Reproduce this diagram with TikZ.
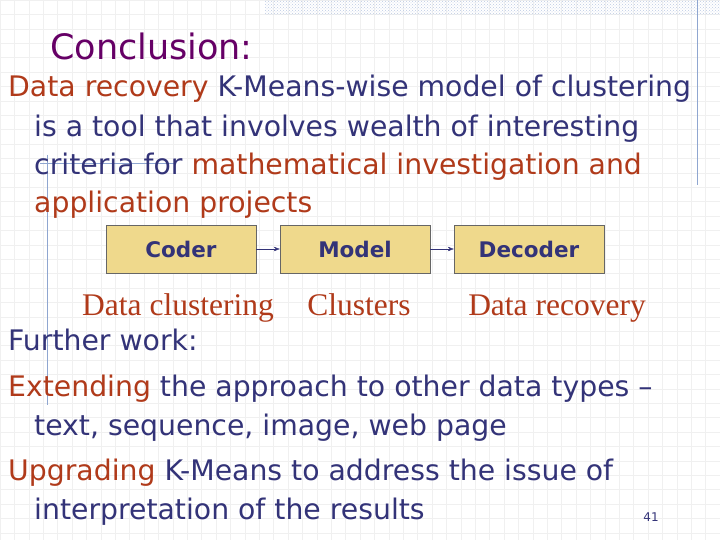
\documentclass[tikz,border=0pt]{standalone}
\usepackage{fontspec}
\setmainfont{DejaVu Sans}
\newfontfamily\serifx{Liberation Serif}
\usetikzlibrary{arrows.meta,patterns}
\definecolor{tblue}{HTML}{333378}
\definecolor{tred}{HTML}{B03A1A}
\definecolor{tpurp}{HTML}{660066}
\definecolor{bfill}{HTML}{EFD98C}
\definecolor{deco}{HTML}{8FA6D0}
\tikzset{
 body/.style={anchor=base west,inner sep=0pt,font=\fontsize{28.3}{32}\selectfont,text=tblue},
 boxx/.style={draw=gray!80!black,fill=bfill,minimum width=150pt,minimum height=48pt,inner sep=0pt,font=\bfseries\fontsize{21.5}{24}\selectfont,text=tblue},
 lab/.style={anchor=base,inner sep=0pt,font=\serifx\fontsize{31.5}{34}\selectfont,text=tred},
 arr/.style={draw=tblue,-{Stealth[length=6pt]}}
}
\begin{document}
\begin{tikzpicture}[x=1pt,y=-1pt]
\useasboundingbox (0,0) rectangle (720,540);
\fill[white] (0,0) rectangle (720,540);
\foreach \i in {0,...,50} {\draw[gray!12] (\i*14.4,0) -- (\i*14.4,540);}
\foreach \j in {0,...,38} {\draw[gray!12] (0,\j*14.4) -- (720,\j*14.4);}
\fill[pattern=crosshatch dots,pattern color=deco!60] (265,0) rectangle (720,15);
\draw[deco] (697,0) -- (697,185);
\draw[deco] (47,155) -- (47,405);
\draw[deco] (40,163) -- (175,163);
\node[anchor=base west,inner sep=0pt,text=tpurp,font=\fontsize{35}{38}\selectfont] (t) at (50,60) {Conclusion:};
\node[body] (l1) at (8,97) {\textcolor{tred}{Data recovery} K-Means-wise model of clustering};
\node[body] (l2) at (34,137) {is a tool that involves wealth of interesting};
\node[body] (l3) at (34,175) {criteria for \textcolor{tred}{mathematical investigation and}};
\node[body,text=tred] (l4) at (34,213) {application projects};
\node[boxx] (c) at (181,249) {Coder};
\node[boxx] (m) at (355,249) {Model};
\node[boxx] (d) at (529,249) {Decoder};
\draw[arr] (c) -- (m);
\draw[arr] (m) -- (d);
\node[lab] (a1) at (178,315) {Data clustering};
\node[lab] (a2) at (359,315) {Clusters};
\node[lab] (a3) at (557,315) {Data recovery};
\node[body] (f) at (8,350) {Further work:};
\node[body] (e1) at (8,396) {\textcolor{tred}{Extending} the approach to other data types –};
\node[body] (e2) at (34,435) {text, sequence, image, web page};
\node[body] (u1) at (8,480) {\textcolor{tred}{Upgrading} K-Means to address the issue of};
\node[body] (u2) at (34,519) {interpretation of the results};
\node[anchor=base,inner sep=0pt,text=tblue,font=\fontsize{12}{14}\selectfont] (pn) at (651,521) {41};
\end{tikzpicture}
\end{document}
